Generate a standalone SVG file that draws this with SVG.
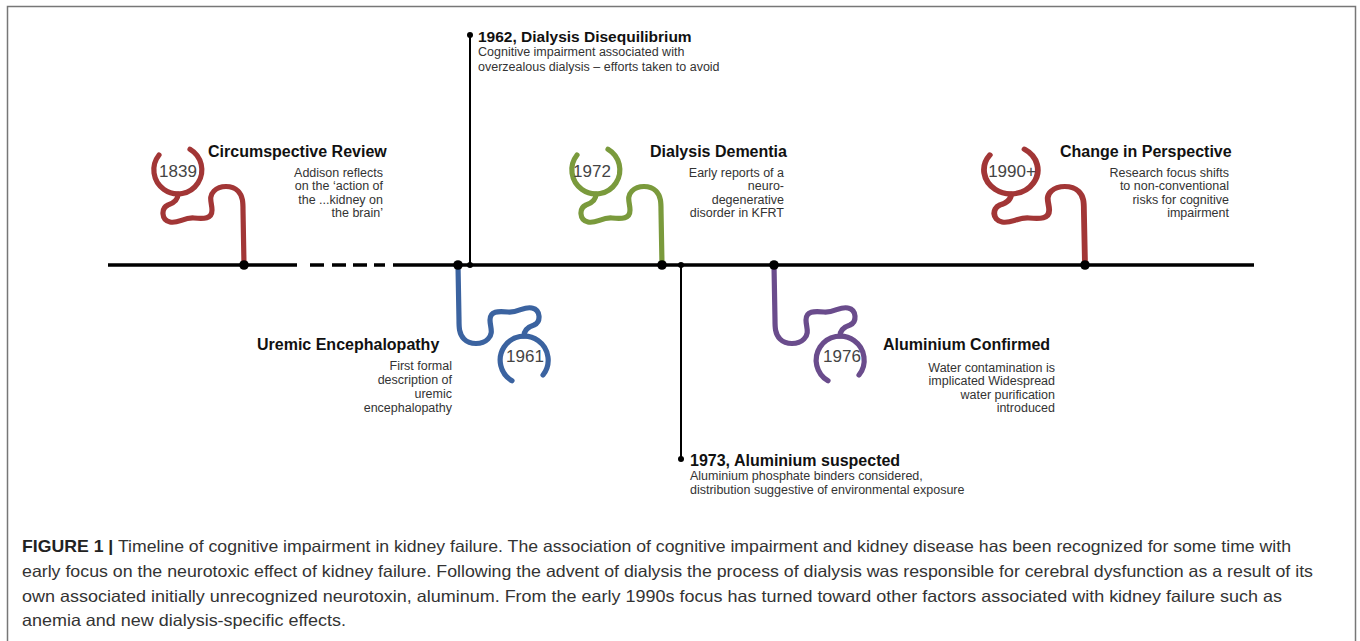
<svg xmlns="http://www.w3.org/2000/svg" xmlns:xlink="http://www.w3.org/1999/xlink" width="1360" height="641" viewBox="0 0 1360 641">
  <style>
    .title { font-family: "Liberation Sans", Arial, sans-serif; font-weight: bold; font-size: 16px; fill: #111; }
    .body { font-family: "Liberation Sans", Arial, sans-serif; font-size: 12.5px; fill: #333; }
    .year { font-family: "Liberation Sans", Arial, sans-serif; font-size: 17px; fill: #444; text-anchor: middle; }
    .end { text-anchor: end; }
    .squiggle { fill: none; stroke-width: 5.2; stroke-linecap: round; stroke-linejoin: round; }
    .axis { stroke: #000; stroke-width: 3.5; fill: none; }
    .pin { stroke: #000; stroke-width: 2; fill: none; }
    .caption { font-family: "Liberation Sans", Arial, sans-serif; font-size: 16.5px; fill: #333; }
  </style>
  <defs>
    <!-- squiggle drawn upward from its base point on the timeline; rotate 180 for the lower ones -->
    <g id="squig">
      <path d="M -85 -110 A 24 24 0 1 0 -54 -115.8"/>
      <path d="M -66 -71 C -66 -66, -70 -62, -76 -60 C -83 -57, -83 -45, -74 -43 C -66 -41, -60 -48, -50 -47 C -40 -46, -32 -46, -32 -55 C -32 -62, -36 -68, -30 -74 C -24 -80, -12 -80, -6 -74 C -1 -69, -1 -62, -1 -55 L 0 0"/>
    </g>
  </defs>

  <!-- frame -->
  <path d="M 7.5 645 V 6.5 H 1355.5 V 645" fill="none" stroke="#777" stroke-width="1.5"/>

  <!-- timeline and pins -->
  <g id="connectors">
    <path class="axis" d="M 108 265 H 297 M 310 265 H 324 M 332 265 H 346 M 353 265 H 367 M 374 265 H 385 M 393 265 H 1254"/>
    <line class="pin" x1="470" y1="35" x2="470" y2="265"/>
    <line class="pin" x1="681" y1="265" x2="681" y2="459"/>
    <circle cx="470" cy="35" r="3" fill="#000"/>
    <circle cx="470" cy="265" r="3" fill="#000"/>
    <circle cx="681" cy="459" r="3" fill="#000"/>
    <circle cx="681" cy="265" r="3" fill="#000"/>
  </g>

  <g id="n1839">
    <use xlink:href="#squig" class="squiggle" stroke="#a23636" transform="translate(244,265)"/>
    <circle cx="244" cy="265" r="4.8" fill="#000"/>
    <text class="year" x="178" y="177">1839</text>
    <text class="title" x="208" y="157">Circumspective Review</text>
    <text class="body end" x="383" y="177">Addison reflects</text>
    <text class="body end" x="383" y="190">on the ‘action of</text>
    <text class="body end" x="383" y="203.5">the ...kidney on</text>
    <text class="body end" x="383" y="217">the brain’</text>
  </g>

  <g id="n1961">
    <use xlink:href="#squig" class="squiggle" stroke="#3b63a0" transform="translate(458,265) rotate(180)"/>
    <circle cx="458" cy="265" r="4.8" fill="#000"/>
    <text class="year" x="525" y="362">1961</text>
    <text class="title" x="257" y="350">Uremic Encephalopathy</text>
    <text class="body end" x="452" y="370">First formal</text>
    <text class="body end" x="452" y="383.5">description of</text>
    <text class="body end" x="452" y="397.5">uremic</text>
    <text class="body end" x="452" y="411.5">encephalopathy</text>
  </g>

  <g id="n1962">
    <text class="title" x="478" y="42" style="font-size:15.5px">1962, Dialysis Disequilibrium</text>
    <text class="body" x="478" y="56">Cognitive impairment associated with</text>
    <text class="body" x="478" y="70.5">overzealous dialysis – efforts taken to avoid</text>
  </g>

  <g id="n1972">
    <use xlink:href="#squig" class="squiggle" stroke="#7a9a3c" transform="translate(662,265)"/>
    <circle cx="662" cy="265" r="4.8" fill="#000"/>
    <text class="year" x="592" y="177">1972</text>
    <text class="title" x="650" y="157">Dialysis Dementia</text>
    <text class="body end" x="784" y="177">Early reports of a</text>
    <text class="body end" x="784" y="190">neuro-</text>
    <text class="body end" x="784" y="203.5">degenerative</text>
    <text class="body end" x="784" y="217">disorder in KFRT</text>
  </g>

  <g id="n1973">
    <text class="title" x="690" y="466">1973, Aluminium suspected</text>
    <text class="body" x="690" y="480">Aluminium phosphate binders considered,</text>
    <text class="body" x="690" y="494">distribution suggestive of environmental exposure</text>
  </g>

  <g id="n1976">
    <use xlink:href="#squig" class="squiggle" stroke="#6a4c8c" transform="translate(774,265) rotate(180)"/>
    <circle cx="774" cy="265" r="4.8" fill="#000"/>
    <text class="year" x="842" y="362">1976</text>
    <text class="title" x="883" y="350">Aluminium Confirmed</text>
    <text class="body end" x="1055" y="371.5">Water contamination is</text>
    <text class="body end" x="1055" y="385">implicated Widespread</text>
    <text class="body end" x="1055" y="398.5">water purification</text>
    <text class="body end" x="1055" y="412">introduced</text>
  </g>

  <g id="n1990">
    <use xlink:href="#squig" class="squiggle" stroke="#a23636" transform="translate(1085,265) scale(1.12,1)"/>
    <circle cx="1085" cy="265" r="4.8" fill="#000"/>
    <text class="year" x="1012" y="177">1990+</text>
    <text class="title" x="1060" y="157">Change in Perspective</text>
    <text class="body end" x="1229" y="176.5">Research focus shifts</text>
    <text class="body end" x="1229" y="190">to non-conventional</text>
    <text class="body end" x="1229" y="203.5">risks for cognitive</text>
    <text class="body end" x="1229" y="217">impairment</text>
  </g>

  <g id="caption">
    <text class="caption" x="22" y="552" textLength="1269" lengthAdjust="spacingAndGlyphs"><tspan font-weight="bold" fill="#222">FIGURE 1 |</tspan> Timeline of cognitive impairment in kidney failure. The association of cognitive impairment and kidney disease has been recognized for some time with</text>
    <text class="caption" x="22" y="577" textLength="1291" lengthAdjust="spacingAndGlyphs">early focus on the neurotoxic effect of kidney failure. Following the advent of dialysis the process of dialysis was responsible for cerebral dysfunction as a result of its</text>
    <text class="caption" x="22" y="602" textLength="1260" lengthAdjust="spacingAndGlyphs">own associated initially unrecognized neurotoxin, aluminum. From the early 1990s focus has turned toward other factors associated with kidney failure such as</text>
    <text class="caption" x="22" y="626" textLength="324" lengthAdjust="spacingAndGlyphs">anemia and new dialysis-specific effects.</text>
  </g>
</svg>
